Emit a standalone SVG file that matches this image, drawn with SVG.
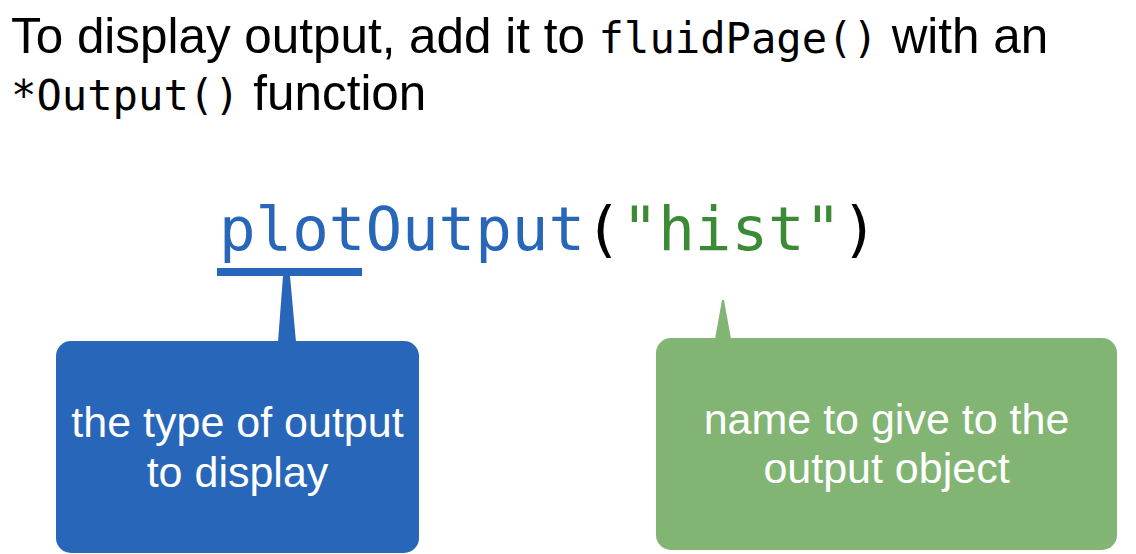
<svg xmlns="http://www.w3.org/2000/svg" width="1136" height="554" viewBox="0 0 1136 554">
<style>
.sans{font-family:"Liberation Sans",Arial,Helvetica,sans-serif}
.mono{font-family:"DejaVu Sans Mono","Liberation Mono",monospace}
.title{font-size:49.4px;fill:#000}
.tmono{font-size:42.2px}
.code{font-size:60.8px}
.lbl{font-size:43px;fill:#fff;text-anchor:middle}
.blue{fill:#2866BA}
.green{fill:#82B574}
</style>
<rect width="1136" height="554" fill="#fff"/>
<g id="title">
<text class="sans title" x="11" y="53">To display output, add it to <tspan class="mono tmono">fluidPage()</tspan> with an</text>
<text class="sans title" x="11" y="110"><tspan class="mono tmono">*Output()</tspan> function</text>
</g>
<g id="code">
<text class="mono code" x="219" y="250"><tspan fill="#2866BA">plotOutput</tspan><tspan fill="#000">(</tspan><tspan fill="#3A8A36">"hist"</tspan><tspan fill="#000">)</tspan></text>
</g>
<g id="connectors">
<rect class="blue" x="217" y="268" width="145" height="8"/>
<polygon class="blue" points="283,276 290,276 296,342 278,342"/>
<polygon class="green" points="722,300 724,300 731,339 715,339"/>
</g>
<g id="node-type">
<rect class="blue" x="56" y="341" width="363" height="212" rx="15"/>
<text class="sans lbl" x="237.5" y="437">the type of output</text>
<text class="sans lbl" x="237.5" y="487">to display</text>
</g>
<g id="node-name">
<rect class="green" x="656" y="338" width="461" height="212" rx="15"/>
<text class="sans lbl" x="886.5" y="434">name to give to the</text>
<text class="sans lbl" x="886.5" y="483">output object</text>
</g>
</svg>
